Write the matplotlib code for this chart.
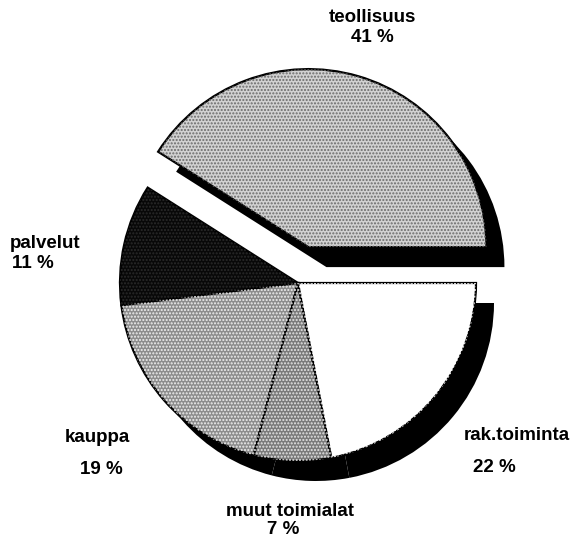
import matplotlib.pyplot as plt

# toimialojen osuudet (%)
labels = ['teollisuus', 'palvelut', 'kauppa', 'muut toimialat', 'rak.toiminta']
shares = [41, 11, 19, 7, 22]
explode = [0.21, 0, 0, 0, 0]   # fraction of radius
fills = ['#d2d2d2', '#080808', '#8c8c8c', '#7a7a7a', '#ffffff']
dots = ['#6a6a6a', '#2a2a2a', '#f0f0f0', '#e6e6e6', '#ffffff']

W, H = 575, 539
fig = plt.figure(figsize=(W / 100, H / 100), dpi=100)
ax = fig.add_axes([0, 0, 1, 1])

cx, cy, r = 298, H - 283, 178
expl = [e * r for e in explode]   # pie takes explode in data units

# black drop shadow, shifted right and down
ax.pie(shares, explode=expl, startangle=0, radius=r, center=(cx + 18, cy - 20),
       colors=['black'] * len(shares), wedgeprops=dict(linewidth=0), frame=True)

# slices
ax.pie(shares, explode=expl, startangle=0, radius=r, center=(cx, cy),
       colors=fills, wedgeprops=dict(edgecolor='black', linewidth=1.6), frame=True)

# halftone look with dot hatching
wedges, _ = ax.pie(shares, explode=expl, startangle=0, radius=r, center=(cx, cy),
                   colors=['none'] * len(shares), frame=True)
for w, c in zip(wedges, dots):
    w.set_facecolor('none')
    w.set_edgecolor(c)
    w.set_linewidth(0)
    w.set_hatch('.....')

ax.set_xlim(0, W)
ax.set_ylim(0, H)
ax.set_aspect('equal')
ax.axis('off')

font = dict(family='Liberation Sans', fontsize=13.5, fontweight='bold', color='black', zorder=10)
pos = {
    'teollisuus': [(372, 18, 'center'), (372, 37, 'center')],
    'palvelut': [(10, 244, 'left'), (12, 263, 'left')],
    'kauppa': [(97, 438, 'center'), (101, 469, 'center')],
    'muut toimialat': [(290, 512, 'center'), (283, 530, 'center')],
    'rak.toiminta': [(517, 435, 'center'), (494, 468, 'center')],
}
for lab, s in zip(labels, shares):
    (x1, y1, ha1), (x2, y2, ha2) = pos[lab]
    ax.text(x1, H - y1, lab, ha=ha1, va='center', **font)
    ax.text(x2, H - y2, f'{s} %', ha=ha2, va='center', **font)

fig.savefig('out.png', dpi=100, facecolor='white')
